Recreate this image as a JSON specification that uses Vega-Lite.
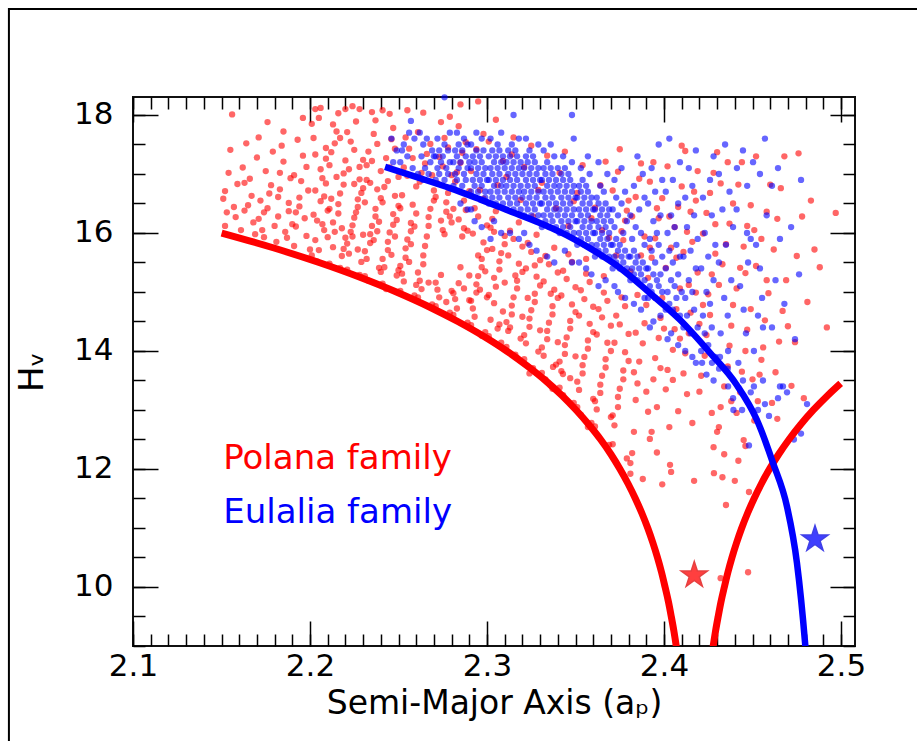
{
"$schema":"https://vega.github.io/schema/vega-lite/v6.json",
"width":722,"height":549,
"autosize":{"type":"none"},
"padding":{"left":133,"top":97,"right":62,"bottom":95},
"background":"#ffffff",
"config":{"view":{"stroke":"#111111","strokeWidth":2},"font":"DejaVu Sans","axis":{"grid":false,"domain":false}},
"resolve":{"axis":{"x":"independent","y":"independent"}},
"datasets":{
"frame":[{"a1":2.0299,"a2":2.7,"h1":19.797,"h2":6.0}],
"polana":[
{"a":2.152,"H":16.12},{"a":2.153,"H":16.35},{"a":2.151,"H":16.58},{"a":2.154,"H":17.02},{"a":2.155,"H":17.41},{"a":2.156,"H":18.01},{"a":2.158,"H":16.27},{"a":2.159,"H":16.83},{"a":2.157,"H":16.44},{"a":2.152,"H":16.71},
{"a":2.161,"H":16.05},{"a":2.163,"H":16.38},{"a":2.164,"H":17.52},{"a":2.166,"H":16.92},{"a":2.168,"H":16.18},{"a":2.162,"H":17.11},{"a":2.167,"H":16.63},{"a":2.169,"H":15.98},{"a":2.165,"H":16.47},{"a":2.17,"H":17.28},{"a":2.163,"H":16.85},
{"a":2.171,"H":16.24},{"a":2.172,"H":16.55},{"a":2.174,"H":15.93},{"a":2.175,"H":17.05},{"a":2.176,"H":16.42},{"a":2.178,"H":16.81},{"a":2.179,"H":17.38},{"a":2.173,"H":16.05},{"a":2.177,"H":16.67},{"a":2.171,"H":17.62},{"a":2.18,"H":16.12},{"a":2.176,"H":17.88},{"a":2.174,"H":16.35},
{"a":2.181,"H":15.85},{"a":2.182,"H":16.28},{"a":2.183,"H":16.74},{"a":2.185,"H":17.21},{"a":2.186,"H":16.02},{"a":2.188,"H":16.51},{"a":2.189,"H":16.93},{"a":2.184,"H":17.48},{"a":2.187,"H":15.92},{"a":2.182,"H":16.61},{"a":2.19,"H":16.15},{"a":2.185,"H":17.72},{"a":2.188,"H":16.37},{"a":2.183,"H":17.02},
{"a":2.191,"H":15.78},{"a":2.192,"H":16.11},{"a":2.194,"H":16.45},{"a":2.195,"H":16.88},{"a":2.196,"H":17.31},{"a":2.198,"H":15.95},{"a":2.199,"H":16.72},{"a":2.193,"H":17.58},{"a":2.197,"H":16.25},{"a":2.191,"H":16.98},{"a":2.2,"H":15.72},{"a":2.196,"H":17.95},{"a":2.194,"H":16.6},{"a":2.198,"H":17.12},{"a":2.192,"H":16.35},
{"a":2.201,"H":15.62},{"a":2.203,"H":15.88},{"a":2.204,"H":16.21},{"a":2.206,"H":16.54},{"a":2.207,"H":16.93},{"a":2.209,"H":17.26},{"a":2.202,"H":17.61},{"a":2.205,"H":15.71},{"a":2.208,"H":16.05},{"a":2.21,"H":16.38},{"a":2.203,"H":16.72},{"a":2.206,"H":17.08},{"a":2.209,"H":17.44},{"a":2.201,"H":17.85},{"a":2.204,"H":15.52},{"a":2.207,"H":16.15},{"a":2.208,"H":16.62},{"a":2.202,"H":16.31},{"a":2.205,"H":17.95},{"a":2.21,"H":15.93},{"a":2.206,"H":18.12},{"a":2.203,"H":17.33},{"a":2.209,"H":16.84},{"a":2.203,"H":18.1},
{"a":2.211,"H":15.48},{"a":2.213,"H":15.76},{"a":2.214,"H":16.02},{"a":2.216,"H":16.33},{"a":2.217,"H":16.67},{"a":2.219,"H":17.01},{"a":2.212,"H":17.37},{"a":2.215,"H":17.72},{"a":2.218,"H":15.61},{"a":2.22,"H":15.92},{"a":2.213,"H":16.18},{"a":2.216,"H":16.49},{"a":2.219,"H":16.82},{"a":2.211,"H":17.15},{"a":2.214,"H":17.52},{"a":2.217,"H":15.41},{"a":2.218,"H":16.08},{"a":2.212,"H":16.58},{"a":2.215,"H":16.95},{"a":2.22,"H":17.23},{"a":2.216,"H":18.03},{"a":2.213,"H":17.84},{"a":2.219,"H":15.73},{"a":2.211,"H":16.41},{"a":2.217,"H":17.61},{"a":2.22,"H":18.1},
{"a":2.221,"H":15.38},{"a":2.222,"H":15.65},{"a":2.224,"H":15.94},{"a":2.225,"H":16.26},{"a":2.227,"H":16.57},{"a":2.228,"H":16.91},{"a":2.23,"H":17.24},{"a":2.223,"H":17.55},{"a":2.226,"H":17.89},{"a":2.229,"H":15.51},{"a":2.221,"H":15.82},{"a":2.224,"H":16.13},{"a":2.227,"H":16.44},{"a":2.23,"H":16.76},{"a":2.222,"H":17.08},{"a":2.225,"H":17.41},{"a":2.228,"H":15.29},{"a":2.223,"H":16.02},{"a":2.226,"H":16.35},{"a":2.229,"H":16.68},{"a":2.221,"H":17.71},{"a":2.224,"H":18.15},{"a":2.227,"H":15.72},{"a":2.23,"H":15.97},{"a":2.225,"H":16.83},{"a":2.228,"H":17.12},{"a":2.228,"H":18.1},
{"a":2.231,"H":15.27},{"a":2.232,"H":15.56},{"a":2.234,"H":15.83},{"a":2.235,"H":16.12},{"a":2.237,"H":16.41},{"a":2.238,"H":16.74},{"a":2.24,"H":17.05},{"a":2.233,"H":17.38},{"a":2.236,"H":17.68},{"a":2.239,"H":15.41},{"a":2.231,"H":15.69},{"a":2.234,"H":15.98},{"a":2.237,"H":16.28},{"a":2.24,"H":16.59},{"a":2.232,"H":16.9},{"a":2.235,"H":17.22},{"a":2.238,"H":17.51},{"a":2.233,"H":15.19},{"a":2.236,"H":15.88},{"a":2.239,"H":16.19},{"a":2.231,"H":16.52},{"a":2.234,"H":16.85},{"a":2.237,"H":17.91},{"a":2.24,"H":15.34},{"a":2.235,"H":18.05},{"a":2.238,"H":16.03},{"a":2.232,"H":17.15},
{"a":2.241,"H":15.14},{"a":2.242,"H":15.42},{"a":2.244,"H":15.71},{"a":2.245,"H":16.01},{"a":2.247,"H":16.32},{"a":2.248,"H":16.63},{"a":2.25,"H":16.95},{"a":2.243,"H":17.27},{"a":2.246,"H":17.59},{"a":2.249,"H":15.28},{"a":2.241,"H":15.56},{"a":2.244,"H":15.85},{"a":2.247,"H":16.14},{"a":2.25,"H":16.46},{"a":2.242,"H":16.78},{"a":2.245,"H":17.11},{"a":2.248,"H":17.43},{"a":2.243,"H":15.05},{"a":2.246,"H":15.63},{"a":2.249,"H":16.22},{"a":2.241,"H":16.52},{"a":2.244,"H":16.88},{"a":2.247,"H":17.78},{"a":2.25,"H":15.37},{"a":2.245,"H":18.02},{"a":2.248,"H":15.94},{"a":2.241,"H":18.08},
{"a":2.251,"H":15.02},{"a":2.252,"H":15.31},{"a":2.254,"H":15.58},{"a":2.255,"H":15.89},{"a":2.257,"H":16.17},{"a":2.258,"H":16.48},{"a":2.26,"H":16.79},{"a":2.253,"H":17.11},{"a":2.256,"H":17.43},{"a":2.259,"H":14.94},{"a":2.251,"H":15.44},{"a":2.254,"H":15.74},{"a":2.257,"H":16.03},{"a":2.26,"H":16.33},{"a":2.252,"H":16.64},{"a":2.255,"H":16.97},{"a":2.258,"H":17.27},{"a":2.253,"H":15.18},{"a":2.256,"H":15.51},{"a":2.259,"H":16.11},{"a":2.251,"H":16.42},{"a":2.254,"H":17.62},{"a":2.257,"H":15.81},{"a":2.26,"H":15.12},{"a":2.255,"H":18.08},
{"a":2.261,"H":14.91},{"a":2.262,"H":15.19},{"a":2.264,"H":15.47},{"a":2.265,"H":15.78},{"a":2.267,"H":16.12},{"a":2.268,"H":16.41},{"a":2.27,"H":16.72},{"a":2.263,"H":17.02},{"a":2.266,"H":17.34},{"a":2.269,"H":14.79},{"a":2.261,"H":15.33},{"a":2.264,"H":15.62},{"a":2.267,"H":16.27},{"a":2.27,"H":16.55},{"a":2.262,"H":16.87},{"a":2.265,"H":17.18},{"a":2.268,"H":17.51},{"a":2.263,"H":15.05},{"a":2.266,"H":15.94},{"a":2.269,"H":16.98},{"a":2.261,"H":17.71},{"a":2.264,"H":18.04},{"a":2.267,"H":15.16},
{"a":2.271,"H":14.76},{"a":2.272,"H":15.04},{"a":2.274,"H":15.29},{"a":2.275,"H":16.05},{"a":2.277,"H":16.36},{"a":2.278,"H":16.68},{"a":2.28,"H":16.98},{"a":2.273,"H":17.29},{"a":2.276,"H":17.61},{"a":2.279,"H":14.65},{"a":2.271,"H":15.16},{"a":2.274,"H":16.21},{"a":2.277,"H":16.52},{"a":2.28,"H":15.02},{"a":2.272,"H":16.84},{"a":2.275,"H":17.13},{"a":2.278,"H":17.45},{"a":2.273,"H":14.91},{"a":2.276,"H":15.98},{"a":2.279,"H":16.28},{"a":2.271,"H":16.61},{"a":2.274,"H":17.88},{"a":2.277,"H":14.83},{"a":2.28,"H":16.18},{"a":2.279,"H":17.97},
{"a":2.281,"H":14.61},{"a":2.282,"H":14.88},{"a":2.284,"H":15.15},{"a":2.285,"H":15.42},{"a":2.287,"H":16.08},{"a":2.288,"H":16.39},{"a":2.29,"H":16.71},{"a":2.283,"H":17.03},{"a":2.286,"H":17.36},{"a":2.289,"H":14.48},{"a":2.281,"H":14.98},{"a":2.284,"H":16.23},{"a":2.287,"H":16.55},{"a":2.29,"H":15.28},{"a":2.282,"H":16.87},{"a":2.285,"H":17.19},{"a":2.288,"H":17.54},{"a":2.283,"H":14.72},{"a":2.286,"H":15.94},{"a":2.289,"H":16.04},{"a":2.281,"H":16.41},{"a":2.284,"H":17.81},{"a":2.287,"H":15.06},{"a":2.29,"H":14.86},{"a":2.285,"H":18.18},
{"a":2.291,"H":14.44},{"a":2.292,"H":14.72},{"a":2.294,"H":14.99},{"a":2.295,"H":15.27},{"a":2.297,"H":15.56},{"a":2.298,"H":15.84},{"a":2.3,"H":16.13},{"a":2.293,"H":16.42},{"a":2.296,"H":16.73},{"a":2.299,"H":14.32},{"a":2.291,"H":14.85},{"a":2.294,"H":15.13},{"a":2.297,"H":15.42},{"a":2.3,"H":15.71},{"a":2.292,"H":15.99},{"a":2.295,"H":16.28},{"a":2.298,"H":16.58},{"a":2.293,"H":14.58},{"a":2.296,"H":15.04},{"a":2.299,"H":15.35},{"a":2.291,"H":17.05},{"a":2.294,"H":17.42},{"a":2.297,"H":14.26},{"a":2.3,"H":14.91},{"a":2.295,"H":15.62},{"a":2.298,"H":17.68},{"a":2.295,"H":18.23},
{"a":2.301,"H":14.25},{"a":2.302,"H":14.53},{"a":2.304,"H":14.81},{"a":2.305,"H":15.09},{"a":2.307,"H":15.38},{"a":2.308,"H":15.66},{"a":2.31,"H":15.95},{"a":2.303,"H":16.24},{"a":2.306,"H":14.38},{"a":2.309,"H":14.67},{"a":2.301,"H":14.95},{"a":2.304,"H":15.24},{"a":2.307,"H":15.52},{"a":2.31,"H":15.81},{"a":2.302,"H":16.09},{"a":2.305,"H":16.37},{"a":2.308,"H":14.14},{"a":2.303,"H":15.73},{"a":2.306,"H":16.81},{"a":2.309,"H":17.22},{"a":2.301,"H":17.55},{"a":2.304,"H":16.02},{"a":2.307,"H":14.45},{"a":2.31,"H":15.16},{"a":2.305,"H":17.92},
{"a":2.311,"H":14.07},{"a":2.312,"H":14.34},{"a":2.314,"H":14.62},{"a":2.315,"H":14.91},{"a":2.317,"H":15.19},{"a":2.318,"H":15.48},{"a":2.32,"H":15.77},{"a":2.313,"H":16.04},{"a":2.316,"H":13.94},{"a":2.319,"H":14.21},{"a":2.311,"H":14.49},{"a":2.314,"H":14.77},{"a":2.317,"H":15.06},{"a":2.32,"H":15.34},{"a":2.312,"H":15.62},{"a":2.315,"H":15.9},{"a":2.318,"H":16.18},{"a":2.313,"H":14.4},{"a":2.316,"H":15.28},{"a":2.319,"H":16.56},{"a":2.311,"H":16.95},{"a":2.314,"H":17.33},{"a":2.317,"H":13.88},{"a":2.32,"H":14.58},{"a":2.315,"H":17.62},
{"a":2.321,"H":13.86},{"a":2.322,"H":14.13},{"a":2.324,"H":14.41},{"a":2.325,"H":14.69},{"a":2.327,"H":14.97},{"a":2.328,"H":15.26},{"a":2.33,"H":15.54},{"a":2.323,"H":15.83},{"a":2.326,"H":13.71},{"a":2.329,"H":13.99},{"a":2.321,"H":14.27},{"a":2.324,"H":14.55},{"a":2.327,"H":14.83},{"a":2.33,"H":15.11},{"a":2.322,"H":15.4},{"a":2.325,"H":15.68},{"a":2.328,"H":15.97},{"a":2.323,"H":14.9},{"a":2.326,"H":16.28},{"a":2.329,"H":16.73},{"a":2.321,"H":17.12},{"a":2.324,"H":13.62},{"a":2.327,"H":15.45},{"a":2.33,"H":14.35},{"a":2.325,"H":17.48},
{"a":2.331,"H":13.63},{"a":2.332,"H":13.92},{"a":2.334,"H":14.2},{"a":2.335,"H":14.48},{"a":2.337,"H":14.76},{"a":2.338,"H":15.04},{"a":2.34,"H":15.33},{"a":2.333,"H":15.61},{"a":2.336,"H":13.41},{"a":2.339,"H":13.77},{"a":2.331,"H":14.06},{"a":2.334,"H":14.34},{"a":2.337,"H":14.62},{"a":2.34,"H":14.9},{"a":2.332,"H":15.18},{"a":2.335,"H":15.47},{"a":2.338,"H":15.75},{"a":2.333,"H":13.52},{"a":2.336,"H":14.97},{"a":2.339,"H":16.42},{"a":2.331,"H":16.85},{"a":2.334,"H":17.31},{"a":2.337,"H":13.36},{"a":2.34,"H":14.15},{"a":2.3373,"H":13.73},
{"a":2.341,"H":13.38},{"a":2.342,"H":13.66},{"a":2.344,"H":13.95},{"a":2.345,"H":14.23},{"a":2.347,"H":14.51},{"a":2.348,"H":14.79},{"a":2.35,"H":15.08},{"a":2.343,"H":15.36},{"a":2.346,"H":15.64},{"a":2.349,"H":13.12},{"a":2.341,"H":13.82},{"a":2.344,"H":14.1},{"a":2.347,"H":14.38},{"a":2.35,"H":14.66},{"a":2.342,"H":14.94},{"a":2.345,"H":15.22},{"a":2.348,"H":15.51},{"a":2.343,"H":13.25},{"a":2.346,"H":16.12},{"a":2.349,"H":16.54},{"a":2.341,"H":17.02},{"a":2.344,"H":17.38},{"a":2.347,"H":13.54},{"a":2.35,"H":13.91},{"a":2.3429,"H":13.61},
{"a":2.351,"H":13.05},{"a":2.352,"H":13.34},{"a":2.354,"H":13.62},{"a":2.355,"H":13.9},{"a":2.357,"H":14.18},{"a":2.358,"H":14.46},{"a":2.36,"H":14.75},{"a":2.353,"H":15.03},{"a":2.356,"H":15.31},{"a":2.359,"H":12.78},{"a":2.351,"H":13.48},{"a":2.354,"H":13.76},{"a":2.357,"H":14.04},{"a":2.36,"H":14.32},{"a":2.352,"H":14.6},{"a":2.355,"H":14.88},{"a":2.358,"H":15.17},{"a":2.353,"H":12.92},{"a":2.356,"H":15.56},{"a":2.359,"H":16.25},{"a":2.351,"H":16.68},{"a":2.354,"H":17.15},{"a":2.357,"H":12.71},{"a":2.36,"H":13.19},
{"a":2.361,"H":12.72},{"a":2.362,"H":13.01},{"a":2.364,"H":13.29},{"a":2.365,"H":13.58},{"a":2.367,"H":13.86},{"a":2.368,"H":14.14},{"a":2.37,"H":14.43},{"a":2.363,"H":14.71},{"a":2.366,"H":14.99},{"a":2.369,"H":12.41},{"a":2.361,"H":13.15},{"a":2.364,"H":13.43},{"a":2.367,"H":13.72},{"a":2.37,"H":14.0},{"a":2.362,"H":14.28},{"a":2.365,"H":14.57},{"a":2.368,"H":14.85},{"a":2.363,"H":12.55},{"a":2.366,"H":15.27},{"a":2.369,"H":15.92},{"a":2.361,"H":16.43},{"a":2.364,"H":16.81},{"a":2.367,"H":17.21},{"a":2.37,"H":12.88},{"a":2.365,"H":16.05},
{"a":2.371,"H":12.42},{"a":2.372,"H":12.74},{"a":2.374,"H":13.05},{"a":2.375,"H":13.36},{"a":2.377,"H":13.67},{"a":2.378,"H":13.98},{"a":2.38,"H":14.29},{"a":2.373,"H":14.6},{"a":2.376,"H":14.91},{"a":2.379,"H":12.18},{"a":2.371,"H":12.91},{"a":2.374,"H":13.22},{"a":2.377,"H":13.52},{"a":2.38,"H":13.83},{"a":2.372,"H":14.14},{"a":2.375,"H":14.45},{"a":2.378,"H":14.76},{"a":2.373,"H":15.62},{"a":2.376,"H":16.03},{"a":2.379,"H":16.38},{"a":2.371,"H":16.72},{"a":2.374,"H":17.04},{"a":2.377,"H":15.88},{"a":2.38,"H":16.55},{"a":2.375,"H":17.42},{"a":2.378,"H":16.21},
{"a":2.381,"H":11.92},{"a":2.382,"H":12.27},{"a":2.383,"H":12.63},{"a":2.384,"H":13.17},{"a":2.385,"H":13.45},{"a":2.386,"H":13.82},{"a":2.388,"H":14.13},{"a":2.389,"H":14.47},{"a":2.39,"H":14.78},{"a":2.381,"H":12.1},{"a":2.383,"H":13.64},{"a":2.385,"H":14.95},{"a":2.387,"H":15.62},{"a":2.389,"H":15.94},{"a":2.382,"H":16.28},{"a":2.384,"H":16.61},{"a":2.386,"H":16.92},{"a":2.388,"H":11.83},{"a":2.39,"H":13.31},{"a":2.381,"H":15.35},{"a":2.387,"H":17.18},{"a":2.384,"H":14.31},
{"a":2.391,"H":12.97},{"a":2.392,"H":12.51},{"a":2.393,"H":12.63},{"a":2.396,"H":13.05},{"a":2.394,"H":13.52},{"a":2.395,"H":13.88},{"a":2.397,"H":14.22},{"a":2.398,"H":14.56},{"a":2.399,"H":14.9},{"a":2.391,"H":15.24},{"a":2.393,"H":15.58},{"a":2.395,"H":15.91},{"a":2.397,"H":16.25},{"a":2.399,"H":16.59},{"a":2.392,"H":16.87},{"a":2.394,"H":17.2},{"a":2.396,"H":12.28},{"a":2.398,"H":13.71},{"a":2.4,"H":14.38},{"a":2.392,"H":15.75},{"a":2.396,"H":16.42},{"a":2.399,"H":11.74},
{"a":2.403,"H":12.71},{"a":2.4034,"H":12.07},{"a":2.404,"H":11.95},{"a":2.408,"H":12.98},{"a":2.401,"H":13.35},{"a":2.402,"H":13.68},{"a":2.405,"H":14.02},{"a":2.406,"H":14.37},{"a":2.407,"H":14.71},{"a":2.409,"H":15.06},{"a":2.401,"H":15.41},{"a":2.404,"H":15.75},{"a":2.406,"H":16.1},{"a":2.408,"H":16.44},{"a":2.41,"H":16.79},{"a":2.402,"H":17.13},{"a":2.405,"H":13.51},{"a":2.409,"H":14.21},{"a":2.407,"H":15.58},{"a":2.403,"H":16.28},{"a":2.41,"H":17.48},
{"a":2.416,"H":12.78},{"a":2.417,"H":11.8},{"a":2.413,"H":13.27},{"a":2.411,"H":13.62},{"a":2.412,"H":13.96},{"a":2.414,"H":14.3},{"a":2.415,"H":14.65},{"a":2.418,"H":14.99},{"a":2.419,"H":15.33},{"a":2.411,"H":15.68},{"a":2.413,"H":16.02},{"a":2.415,"H":16.36},{"a":2.417,"H":16.7},{"a":2.419,"H":17.05},{"a":2.412,"H":17.39},{"a":2.42,"H":13.31},{"a":2.414,"H":15.12},{"a":2.416,"H":15.85},{"a":2.418,"H":16.55},{"a":2.42,"H":14.46},
{"a":2.427,"H":12.95},{"a":2.43,"H":12.63},{"a":2.428,"H":12.37},{"a":2.4282,"H":11.93},{"a":2.421,"H":13.58},{"a":2.423,"H":13.92},{"a":2.424,"H":14.27},{"a":2.426,"H":14.61},{"a":2.425,"H":14.96},{"a":2.427,"H":15.3},{"a":2.429,"H":15.65},{"a":2.422,"H":15.99},{"a":2.424,"H":16.34},{"a":2.426,"H":16.68},{"a":2.428,"H":17.02},{"a":2.43,"H":17.37},{"a":2.422,"H":14.78},{"a":2.429,"H":16.15},{"a":2.432,"H":10.15},
{"a":2.433,"H":11.86},{"a":2.435,"H":11.39},{"a":2.44,"H":11.8},{"a":2.431,"H":12.71},{"a":2.432,"H":13.05},{"a":2.434,"H":13.4},{"a":2.436,"H":13.74},{"a":2.437,"H":14.09},{"a":2.438,"H":14.43},{"a":2.439,"H":14.78},{"a":2.431,"H":15.12},{"a":2.433,"H":15.47},{"a":2.435,"H":15.81},{"a":2.437,"H":16.16},{"a":2.439,"H":16.5},{"a":2.432,"H":16.84},{"a":2.436,"H":17.2},{"a":2.434,"H":12.25},{"a":2.438,"H":13.15},
{"a":2.442,"H":12.14},{"a":2.445,"H":12.49},{"a":2.446,"H":12.39},{"a":2.448,"H":11.61},{"a":2.4475,"H":10.25},{"a":2.441,"H":12.95},{"a":2.443,"H":13.3},{"a":2.444,"H":13.65},{"a":2.446,"H":14.0},{"a":2.447,"H":14.36},{"a":2.449,"H":14.71},{"a":2.441,"H":15.06},{"a":2.443,"H":15.41},{"a":2.445,"H":15.77},{"a":2.447,"H":16.12},{"a":2.449,"H":16.47},{"a":2.442,"H":16.82},{"a":2.444,"H":17.2},{"a":2.45,"H":13.52},{"a":2.446,"H":15.32},
{"a":2.451,"H":12.82},{"a":2.453,"H":13.15},{"a":2.454,"H":13.6},{"a":2.456,"H":14.06},{"a":2.457,"H":14.52},{"a":2.459,"H":14.98},{"a":2.452,"H":15.44},{"a":2.455,"H":15.9},{"a":2.458,"H":16.36},{"a":2.46,"H":16.82},{"a":2.452,"H":17.3},{"a":2.455,"H":13.85},{"a":2.458,"H":15.2},{"a":2.451,"H":16.05},
{"a":2.461,"H":13.12},{"a":2.463,"H":13.64},{"a":2.465,"H":14.16},{"a":2.467,"H":14.68},{"a":2.469,"H":15.2},{"a":2.462,"H":15.72},{"a":2.464,"H":16.24},{"a":2.466,"H":16.76},{"a":2.468,"H":17.3},{"a":2.47,"H":14.42},{"a":2.464,"H":12.85},
{"a":2.472,"H":13.41},{"a":2.475,"H":15.61},{"a":2.478,"H":16.28},{"a":2.474,"H":14.15},{"a":2.481,"H":14.83},{"a":2.485,"H":15.72},{"a":2.488,"H":15.42},{"a":2.497,"H":16.34},{"a":2.492,"H":14.4},{"a":2.479,"H":13.2},{"a":2.483,"H":16.55},{"a":2.476,"H":17.35}
],
"eulalia":[
{"a":2.247,"H":17.2},{"a":2.249,"H":17.4},{"a":2.246,"H":17.6},
{"a":2.251,"H":17.2},{"a":2.253,"H":17.5},{"a":2.255,"H":17.3},{"a":2.257,"H":17.9},{"a":2.258,"H":17.1},{"a":2.259,"H":17.6},{"a":2.252,"H":17.4},{"a":2.256,"H":17.7},
{"a":2.261,"H":17.0},{"a":2.263,"H":17.3},{"a":2.265,"H":17.1},{"a":2.266,"H":17.6},{"a":2.268,"H":17.2},{"a":2.269,"H":17.4},{"a":2.262,"H":17.7},{"a":2.264,"H":17.5},{"a":2.267,"H":17.0},{"a":2.27,"H":17.3},{"a":2.264,"H":16.9},
{"a":2.271,"H":16.9},{"a":2.276,"H":16.9},{"a":2.273,"H":17.0},{"a":2.278,"H":17.0},{"a":2.272,"H":17.1},{"a":2.277,"H":17.1},{"a":2.274,"H":17.2},{"a":2.279,"H":17.2},{"a":2.271,"H":17.3},{"a":2.275,"H":17.3},{"a":2.273,"H":17.4},{"a":2.278,"H":17.4},{"a":2.276,"H":17.5},{"a":2.272,"H":17.6},{"a":2.279,"H":17.7},{"a":2.276,"H":18.3},
{"a":2.281,"H":16.8},{"a":2.286,"H":16.8},{"a":2.283,"H":16.9},{"a":2.288,"H":16.9},{"a":2.282,"H":17.0},{"a":2.287,"H":17.0},{"a":2.284,"H":17.1},{"a":2.289,"H":17.1},{"a":2.281,"H":17.2},{"a":2.285,"H":17.2},{"a":2.29,"H":17.2},{"a":2.283,"H":17.3},{"a":2.288,"H":17.3},{"a":2.282,"H":17.4},{"a":2.286,"H":17.4},{"a":2.284,"H":17.5},{"a":2.289,"H":17.5},{"a":2.287,"H":17.6},{"a":2.283,"H":17.7},{"a":2.285,"H":16.5},{"a":2.289,"H":16.4},
{"a":2.291,"H":16.7},{"a":2.295,"H":16.7},{"a":2.299,"H":16.7},{"a":2.293,"H":16.8},{"a":2.297,"H":16.8},{"a":2.292,"H":16.9},{"a":2.296,"H":16.9},{"a":2.3,"H":16.9},{"a":2.294,"H":17.0},{"a":2.298,"H":17.0},{"a":2.291,"H":17.1},{"a":2.295,"H":17.1},{"a":2.299,"H":17.1},{"a":2.293,"H":17.2},{"a":2.297,"H":17.2},{"a":2.292,"H":17.3},{"a":2.296,"H":17.3},{"a":2.294,"H":17.4},{"a":2.298,"H":17.4},{"a":2.291,"H":17.5},{"a":2.297,"H":17.6},{"a":2.294,"H":17.7},{"a":2.299,"H":16.6},{"a":2.293,"H":16.2},{"a":2.297,"H":16.1},{"a":2.291,"H":16.4},
{"a":2.301,"H":16.5},{"a":2.305,"H":16.5},{"a":2.309,"H":16.5},{"a":2.303,"H":16.6},{"a":2.307,"H":16.6},{"a":2.302,"H":16.7},{"a":2.306,"H":16.7},{"a":2.31,"H":16.7},{"a":2.304,"H":16.8},{"a":2.308,"H":16.8},{"a":2.301,"H":16.9},{"a":2.305,"H":16.9},{"a":2.309,"H":16.9},{"a":2.303,"H":17.0},{"a":2.307,"H":17.0},{"a":2.302,"H":17.1},{"a":2.306,"H":17.1},{"a":2.31,"H":17.1},{"a":2.304,"H":17.2},{"a":2.308,"H":17.2},{"a":2.301,"H":17.3},{"a":2.305,"H":17.3},{"a":2.309,"H":17.3},{"a":2.303,"H":17.4},{"a":2.307,"H":17.4},{"a":2.306,"H":17.5},{"a":2.302,"H":17.6},{"a":2.308,"H":17.7},{"a":2.304,"H":16.2},{"a":2.308,"H":16.0},{"a":2.302,"H":15.9},
{"a":2.311,"H":16.4},{"a":2.315,"H":16.4},{"a":2.319,"H":16.4},{"a":2.313,"H":16.5},{"a":2.317,"H":16.5},{"a":2.312,"H":16.6},{"a":2.316,"H":16.6},{"a":2.32,"H":16.6},{"a":2.314,"H":16.7},{"a":2.318,"H":16.7},{"a":2.311,"H":16.8},{"a":2.315,"H":16.8},{"a":2.319,"H":16.8},{"a":2.313,"H":16.9},{"a":2.317,"H":16.9},{"a":2.312,"H":17.0},{"a":2.316,"H":17.0},{"a":2.32,"H":17.0},{"a":2.314,"H":17.1},{"a":2.318,"H":17.1},{"a":2.311,"H":17.2},{"a":2.315,"H":17.2},{"a":2.319,"H":17.2},{"a":2.313,"H":17.3},{"a":2.317,"H":17.3},{"a":2.312,"H":17.4},{"a":2.316,"H":17.4},{"a":2.314,"H":17.5},{"a":2.318,"H":17.6},{"a":2.315,"H":18.0},{"a":2.318,"H":15.9},{"a":2.313,"H":16.0},
{"a":2.321,"H":16.3},{"a":2.325,"H":16.3},{"a":2.329,"H":16.3},{"a":2.323,"H":16.4},{"a":2.327,"H":16.4},{"a":2.322,"H":16.5},{"a":2.326,"H":16.5},{"a":2.33,"H":16.5},{"a":2.324,"H":16.6},{"a":2.328,"H":16.6},{"a":2.321,"H":16.7},{"a":2.325,"H":16.7},{"a":2.329,"H":16.7},{"a":2.323,"H":16.8},{"a":2.327,"H":16.8},{"a":2.322,"H":16.9},{"a":2.326,"H":16.9},{"a":2.33,"H":16.9},{"a":2.324,"H":17.0},{"a":2.328,"H":17.0},{"a":2.321,"H":17.1},{"a":2.325,"H":17.1},{"a":2.329,"H":17.1},{"a":2.323,"H":17.2},{"a":2.327,"H":17.2},{"a":2.322,"H":17.3},{"a":2.326,"H":17.3},{"a":2.324,"H":17.4},{"a":2.329,"H":17.5},{"a":2.322,"H":17.6},{"a":2.324,"H":15.8},{"a":2.328,"H":15.7},{"a":2.321,"H":16.0},
{"a":2.331,"H":16.1},{"a":2.335,"H":16.1},{"a":2.339,"H":16.1},{"a":2.333,"H":16.2},{"a":2.337,"H":16.2},{"a":2.332,"H":16.3},{"a":2.336,"H":16.3},{"a":2.34,"H":16.3},{"a":2.334,"H":16.4},{"a":2.338,"H":16.4},{"a":2.331,"H":16.5},{"a":2.335,"H":16.5},{"a":2.339,"H":16.5},{"a":2.333,"H":16.6},{"a":2.337,"H":16.6},{"a":2.332,"H":16.7},{"a":2.336,"H":16.7},{"a":2.34,"H":16.7},{"a":2.334,"H":16.8},{"a":2.338,"H":16.8},{"a":2.331,"H":16.9},{"a":2.335,"H":16.9},{"a":2.339,"H":16.9},{"a":2.333,"H":17.0},{"a":2.337,"H":17.0},{"a":2.332,"H":17.1},{"a":2.336,"H":17.1},{"a":2.34,"H":17.1},{"a":2.334,"H":17.2},{"a":2.338,"H":17.3},{"a":2.332,"H":17.4},{"a":2.336,"H":17.5},{"a":2.334,"H":15.6},{"a":2.338,"H":15.5},
{"a":2.341,"H":16.0},{"a":2.345,"H":16.0},{"a":2.349,"H":16.0},{"a":2.343,"H":16.1},{"a":2.347,"H":16.1},{"a":2.342,"H":16.2},{"a":2.346,"H":16.2},{"a":2.35,"H":16.2},{"a":2.344,"H":16.3},{"a":2.348,"H":16.3},{"a":2.341,"H":16.4},{"a":2.345,"H":16.4},{"a":2.349,"H":16.4},{"a":2.343,"H":16.5},{"a":2.347,"H":16.5},{"a":2.342,"H":16.6},{"a":2.346,"H":16.6},{"a":2.35,"H":16.6},{"a":2.344,"H":16.7},{"a":2.348,"H":16.7},{"a":2.341,"H":16.8},{"a":2.345,"H":16.8},{"a":2.349,"H":16.8},{"a":2.343,"H":16.9},{"a":2.347,"H":16.9},{"a":2.342,"H":17.0},{"a":2.346,"H":17.0},{"a":2.344,"H":17.1},{"a":2.348,"H":17.2},{"a":2.343,"H":17.3},{"a":2.349,"H":17.6},{"a":2.348,"H":18.0},{"a":2.344,"H":15.7},{"a":2.348,"H":15.5},
{"a":2.351,"H":15.8},{"a":2.355,"H":15.8},{"a":2.359,"H":15.8},{"a":2.353,"H":15.9},{"a":2.357,"H":15.9},{"a":2.352,"H":16.0},{"a":2.356,"H":16.0},{"a":2.36,"H":16.0},{"a":2.354,"H":16.1},{"a":2.358,"H":16.1},{"a":2.351,"H":16.2},{"a":2.355,"H":16.2},{"a":2.359,"H":16.2},{"a":2.353,"H":16.3},{"a":2.357,"H":16.3},{"a":2.352,"H":16.4},{"a":2.356,"H":16.4},{"a":2.36,"H":16.4},{"a":2.354,"H":16.5},{"a":2.358,"H":16.5},{"a":2.351,"H":16.6},{"a":2.355,"H":16.6},{"a":2.359,"H":16.6},{"a":2.353,"H":16.7},{"a":2.357,"H":16.7},{"a":2.352,"H":16.8},{"a":2.356,"H":16.8},{"a":2.354,"H":16.9},{"a":2.358,"H":17.0},{"a":2.353,"H":17.1},{"a":2.357,"H":17.3},{"a":2.356,"H":15.4},{"a":2.352,"H":15.5},{"a":2.359,"H":15.3},
{"a":2.361,"H":15.6},{"a":2.365,"H":15.6},{"a":2.369,"H":15.6},{"a":2.363,"H":15.7},{"a":2.367,"H":15.7},{"a":2.362,"H":15.8},{"a":2.366,"H":15.8},{"a":2.37,"H":15.8},{"a":2.364,"H":15.9},{"a":2.368,"H":15.9},{"a":2.361,"H":16.0},{"a":2.365,"H":16.0},{"a":2.369,"H":16.0},{"a":2.363,"H":16.1},{"a":2.367,"H":16.1},{"a":2.362,"H":16.2},{"a":2.366,"H":16.2},{"a":2.37,"H":16.2},{"a":2.364,"H":16.3},{"a":2.368,"H":16.3},{"a":2.361,"H":16.4},{"a":2.365,"H":16.4},{"a":2.369,"H":16.4},{"a":2.363,"H":16.5},{"a":2.367,"H":16.5},{"a":2.362,"H":16.6},{"a":2.366,"H":16.7},{"a":2.364,"H":16.8},{"a":2.368,"H":17.0},{"a":2.363,"H":17.2},{"a":2.367,"H":15.2},{"a":2.363,"H":15.1},
{"a":2.371,"H":15.4},{"a":2.375,"H":15.4},{"a":2.379,"H":15.4},{"a":2.373,"H":15.5},{"a":2.377,"H":15.5},{"a":2.372,"H":15.6},{"a":2.376,"H":15.6},{"a":2.38,"H":15.6},{"a":2.374,"H":15.7},{"a":2.378,"H":15.7},{"a":2.371,"H":15.8},{"a":2.375,"H":15.8},{"a":2.373,"H":15.9},{"a":2.377,"H":16.0},{"a":2.372,"H":16.1},{"a":2.379,"H":16.2},{"a":2.374,"H":16.3},{"a":2.371,"H":16.4},{"a":2.376,"H":16.5},{"a":2.373,"H":16.6},{"a":2.378,"H":16.7},{"a":2.372,"H":16.9},{"a":2.376,"H":17.1},{"a":2.374,"H":15.0},{"a":2.378,"H":14.9},{"a":2.372,"H":15.1},
{"a":2.381,"H":15.2},{"a":2.385,"H":15.2},{"a":2.389,"H":15.2},{"a":2.383,"H":15.3},{"a":2.387,"H":15.3},{"a":2.382,"H":15.4},{"a":2.386,"H":15.4},{"a":2.39,"H":15.4},{"a":2.384,"H":15.5},{"a":2.388,"H":15.5},{"a":2.381,"H":15.6},{"a":2.385,"H":15.6},{"a":2.383,"H":15.7},{"a":2.389,"H":15.8},{"a":2.382,"H":15.9},{"a":2.387,"H":16.0},{"a":2.384,"H":16.1},{"a":2.381,"H":16.3},{"a":2.386,"H":16.4},{"a":2.389,"H":16.6},{"a":2.383,"H":16.8},{"a":2.388,"H":17.0},{"a":2.385,"H":17.3},{"a":2.383,"H":14.8},{"a":2.387,"H":14.7},{"a":2.389,"H":14.9},
{"a":2.391,"H":14.9},{"a":2.395,"H":14.9},{"a":2.399,"H":15.0},{"a":2.393,"H":15.0},{"a":2.397,"H":15.1},{"a":2.392,"H":15.1},{"a":2.396,"H":15.2},{"a":2.394,"H":15.3},{"a":2.398,"H":15.3},{"a":2.391,"H":15.4},{"a":2.395,"H":15.5},{"a":2.399,"H":15.6},{"a":2.393,"H":15.7},{"a":2.397,"H":15.8},{"a":2.392,"H":15.9},{"a":2.396,"H":16.0},{"a":2.394,"H":16.2},{"a":2.398,"H":16.3},{"a":2.391,"H":16.5},{"a":2.395,"H":16.7},{"a":2.399,"H":16.9},{"a":2.393,"H":17.1},{"a":2.397,"H":17.5},{"a":2.394,"H":14.5},{"a":2.398,"H":14.6},{"a":2.392,"H":14.4},
{"a":2.401,"H":14.7},{"a":2.405,"H":14.7},{"a":2.409,"H":14.6},{"a":2.403,"H":14.8},{"a":2.407,"H":14.9},{"a":2.402,"H":15.0},{"a":2.406,"H":15.1},{"a":2.41,"H":15.0},{"a":2.404,"H":15.2},{"a":2.408,"H":15.3},{"a":2.401,"H":15.4},{"a":2.405,"H":15.5},{"a":2.409,"H":15.6},{"a":2.403,"H":15.7},{"a":2.407,"H":15.8},{"a":2.402,"H":16.0},{"a":2.406,"H":16.1},{"a":2.404,"H":16.3},{"a":2.408,"H":16.5},{"a":2.401,"H":16.7},{"a":2.405,"H":16.9},{"a":2.409,"H":17.2},{"a":2.403,"H":17.6},{"a":2.404,"H":14.3},{"a":2.408,"H":14.1},{"a":2.402,"H":14.2},
{"a":2.411,"H":14.4},{"a":2.415,"H":14.3},{"a":2.419,"H":14.4},{"a":2.413,"H":14.6},{"a":2.417,"H":14.7},{"a":2.412,"H":14.9},{"a":2.416,"H":15.0},{"a":2.414,"H":15.2},{"a":2.418,"H":15.4},{"a":2.411,"H":15.6},{"a":2.415,"H":15.7},{"a":2.419,"H":15.9},{"a":2.413,"H":16.1},{"a":2.417,"H":16.3},{"a":2.412,"H":16.6},{"a":2.416,"H":16.8},{"a":2.414,"H":17.1},{"a":2.418,"H":17.4},{"a":2.416,"H":13.9},{"a":2.412,"H":14.0},{"a":2.418,"H":13.8},
{"a":2.421,"H":14.0},{"a":2.425,"H":14.1},{"a":2.429,"H":13.9},{"a":2.423,"H":14.3},{"a":2.427,"H":14.4},{"a":2.422,"H":14.6},{"a":2.426,"H":14.8},{"a":2.424,"H":15.0},{"a":2.428,"H":15.2},{"a":2.421,"H":15.4},{"a":2.425,"H":15.6},{"a":2.429,"H":15.8},{"a":2.423,"H":16.0},{"a":2.427,"H":16.3},{"a":2.422,"H":16.6},{"a":2.426,"H":16.9},{"a":2.428,"H":17.3},{"a":2.4215,"H":13.8},{"a":2.4271,"H":13.8},{"a":2.424,"H":13.6},{"a":2.428,"H":13.5},
{"a":2.4345,"H":17.5},{"a":2.4316,"H":13.9},{"a":2.4311,"H":13.7},{"a":2.4362,"H":14.0},{"a":2.4362,"H":13.4},{"a":2.439,"H":13.2},{"a":2.4392,"H":13.0},{"a":2.432,"H":14.3},{"a":2.436,"H":14.6},{"a":2.434,"H":14.9},{"a":2.438,"H":15.2},{"a":2.431,"H":15.5},{"a":2.435,"H":15.8},{"a":2.439,"H":16.1},{"a":2.433,"H":16.4},{"a":2.437,"H":16.7},{"a":2.431,"H":17.0},{"a":2.436,"H":13.7},
{"a":2.4446,"H":17.4},{"a":2.4412,"H":17.1},{"a":2.4475,"H":15.5},{"a":2.4469,"H":16.0},{"a":2.4463,"H":14.3},{"a":2.4446,"H":13.5},{"a":2.4441,"H":13.0},{"a":2.448,"H":12.4},{"a":2.442,"H":13.8},{"a":2.445,"H":14.7},{"a":2.443,"H":15.1},{"a":2.449,"H":15.9},{"a":2.441,"H":16.4},{"a":2.447,"H":16.8},{"a":2.449,"H":13.3},
{"a":2.457,"H":17.6},{"a":2.4503,"H":17.2},{"a":2.4542,"H":17.0},{"a":2.4542,"H":15.4},{"a":2.4554,"H":14.9},{"a":2.4531,"H":14.6},{"a":2.4559,"H":14.4},{"a":2.4508,"H":14.0},{"a":2.4508,"H":13.4},{"a":2.4559,"H":13.5},{"a":2.457,"H":13.1},{"a":2.4593,"H":12.9},{"a":2.4531,"H":13.0},{"a":2.452,"H":15.8},{"a":2.458,"H":16.3},
{"a":2.4644,"H":17.1},{"a":2.461,"H":16.8},{"a":2.4655,"H":15.9},{"a":2.461,"H":14.4},{"a":2.4655,"H":13.4},{"a":2.4672,"H":13.4},{"a":2.4695,"H":13.3},{"a":2.4644,"H":13.2},{"a":2.463,"H":15.2},{"a":2.468,"H":14.8},
{"a":2.4774,"H":16.9},{"a":2.4718,"H":16.1},{"a":2.4763,"H":15.3},{"a":2.4774,"H":12.6},{"a":2.4734,"H":12.5},{"a":2.4808,"H":13.1},{"a":2.474,"H":14.2}
],
"redcurves":[
{"branch":"L","a":2.1501,"H":16.0},{"branch":"L","a":2.1792,"H":15.75},{"branch":"L","a":2.2051,"H":15.5},{"branch":"L","a":2.2282,"H":15.25},{"branch":"L","a":2.2488,"H":15.0},{"branch":"L","a":2.2672,"H":14.75},{"branch":"L","a":2.2835,"H":14.5},{"branch":"L","a":2.2981,"H":14.25},{"branch":"L","a":2.3111,"H":14.0},{"branch":"L","a":2.3226,"H":13.75},{"branch":"L","a":2.333,"H":13.5},{"branch":"L","a":2.3422,"H":13.25},{"branch":"L","a":2.3503,"H":13.0},{"branch":"L","a":2.3576,"H":12.75},{"branch":"L","a":2.3642,"H":12.5},{"branch":"L","a":2.37,"H":12.25},{"branch":"L","a":2.3751,"H":12.0},{"branch":"L","a":2.3797,"H":11.75},{"branch":"L","a":2.3838,"H":11.5},{"branch":"L","a":2.3875,"H":11.25},{"branch":"L","a":2.3908,"H":11.0},{"branch":"L","a":2.3937,"H":10.75},{"branch":"L","a":2.3963,"H":10.5},{"branch":"L","a":2.3986,"H":10.25},{"branch":"L","a":2.4006,"H":10.0},{"branch":"L","a":2.4025,"H":9.75},{"branch":"L","a":2.4041,"H":9.5},{"branch":"L","a":2.4056,"H":9.25},{"branch":"L","a":2.4069,"H":9.0},{"branch":"L","a":2.408,"H":8.75},
{"branch":"R","a":2.4267,"H":8.75},{"branch":"R","a":2.4278,"H":9.0},{"branch":"R","a":2.4291,"H":9.25},{"branch":"R","a":2.4306,"H":9.5},{"branch":"R","a":2.4322,"H":9.75},{"branch":"R","a":2.4341,"H":10.0},{"branch":"R","a":2.4361,"H":10.25},{"branch":"R","a":2.4384,"H":10.5},{"branch":"R","a":2.441,"H":10.75},{"branch":"R","a":2.4439,"H":11.0},{"branch":"R","a":2.4472,"H":11.25},{"branch":"R","a":2.4509,"H":11.5},{"branch":"R","a":2.455,"H":11.75},{"branch":"R","a":2.4596,"H":12.0},{"branch":"R","a":2.4648,"H":12.25},{"branch":"R","a":2.4706,"H":12.5},{"branch":"R","a":2.4771,"H":12.75},{"branch":"R","a":2.4844,"H":13.0},{"branch":"R","a":2.4926,"H":13.25},{"branch":"R","a":2.4998,"H":13.45}
],
"bluecurve":[
{"a":2.2424,"H":17.12},{"a":2.2621,"H":16.93},{"a":2.2791,"H":16.76},{"a":2.296,"H":16.57},{"a":2.313,"H":16.37},{"a":2.3299,"H":16.17},{"a":2.3412,"H":16.02},{"a":2.3571,"H":15.76},{"a":2.3751,"H":15.41},{"a":2.3921,"H":14.98},{"a":2.409,"H":14.53},{"a":2.426,"H":13.97},{"a":2.4412,"H":13.42},{"a":2.4525,"H":12.83},{"a":2.4616,"H":12.1},{"a":2.4695,"H":11.36},{"a":2.4751,"H":10.41},{"a":2.4797,"H":9.05},{"a":2.4805,"H":8.75}
],
"stars":[{"fam":"Polana","a":2.4171,"H":10.2},{"fam":"Eulalia","a":2.4853,"H":10.81}],
"labels":[{"fam":"Polana","label":"Polana family","a":2.151,"H":11.995},{"fam":"Eulalia","label":"Eulalia family","a":2.151,"H":11.09}]
},
"layer":[
{"data":{"name":"frame"},"mark":{"type":"rect","fillOpacity":0,"stroke":"#000000","strokeWidth":2,"clip":false},
"encoding":{"x":{"field":"a1","type":"quantitative","scale":{"domain":[2.1,2.5079],"nice":false,"zero":false},"axis":null},"x2":{"field":"a2"},"y":{"field":"h1","type":"quantitative","scale":{"domain":[9.0,18.305],"nice":false,"zero":false},"axis":null},"y2":{"field":"h2"}}},
{"data":{"name":"polana"},"mark":{"type":"circle","color":"#ff0000","opacity":0.6,"size":40},
"encoding":{
"x":{"field":"a","type":"quantitative","scale":{"domain":[2.1,2.5079],"nice":false,"zero":false},"axis":{"orient":"bottom","values":[2.1,2.2,2.3,2.4,2.5],"format":".1f","ticks":false,"domain":false,"grid":false,"labelFontSize":31,"labelFont":"DejaVu Sans","labelColor":"#000000","labelPadding":5,"labelFlush":false,"labelOverlap":false,"title":"Semi-Major Axis (aₚ)","titleFontSize":33,"titleFont":"DejaVu Sans","titleFontWeight":"normal","titleColor":"#000000","titlePadding":6}},
"y":{"field":"H","type":"quantitative","scale":{"domain":[9.0,18.305],"nice":false,"zero":false},"axis":{"orient":"left","values":[10,12,14,16,18],"format":"d","ticks":false,"domain":false,"grid":false,"labelFontSize":31,"labelFont":"DejaVu Sans","labelColor":"#000000","labelPadding":20,"labelOverlap":false,"title":"Hᵥ","titleFontSize":34,"titleFont":"DejaVu Sans","titleFontWeight":"normal","titleColor":"#000000","titlePadding":24}}}},
{"data":{"name":"eulalia"},"mark":{"type":"circle","color":"#0000ff","opacity":0.6,"size":40},
"encoding":{
"x":{"field":"a","type":"quantitative","scale":{"domain":[2.1,2.5079],"nice":false,"zero":false},"axis":{"orient":"bottom","values":[2.1,2.2,2.3,2.4,2.5],"ticks":true,"tickSize":-25,"tickWidth":1.5,"tickColor":"#000000","labels":false,"domain":false,"grid":false,"title":null}},
"y":{"field":"H","type":"quantitative","scale":{"domain":[9.0,18.305],"nice":false,"zero":false},"axis":{"orient":"left","values":[10,12,14,16,18],"ticks":true,"tickSize":-25,"tickWidth":1.5,"tickColor":"#000000","labels":false,"domain":false,"grid":false,"title":null}}}},
{"data":{"name":"redcurves"},"mark":{"type":"line","color":"#ff0000","strokeWidth":7,"interpolate":"monotone","clip":true},
"encoding":{
"detail":{"field":"branch"},
"x":{"field":"a","type":"quantitative","scale":{"domain":[2.1,2.5079],"nice":false,"zero":false},"axis":{"orient":"bottom","values":[2.1,2.11,2.12,2.13,2.14,2.15,2.16,2.17,2.18,2.19,2.2,2.21,2.22,2.23,2.24,2.25,2.26,2.27,2.28,2.29,2.3,2.31,2.32,2.33,2.34,2.35,2.36,2.37,2.38,2.39,2.4,2.41,2.42,2.43,2.44,2.45,2.46,2.47,2.48,2.49,2.5],"ticks":true,"tickSize":-12,"tickWidth":1.5,"tickColor":"#000000","labels":false,"domain":false,"grid":false,"title":null}},
"y":{"field":"H","type":"quantitative","scale":{"domain":[9.0,18.305],"nice":false,"zero":false},"axis":{"orient":"left","values":[9,9.5,10,10.5,11,11.5,12,12.5,13,13.5,14,14.5,15,15.5,16,16.5,17,17.5,18],"ticks":true,"tickSize":-12,"tickWidth":1.5,"tickColor":"#000000","labels":false,"domain":false,"grid":false,"title":null}}}},
{"data":{"name":"bluecurve"},"mark":{"type":"line","color":"#0000ff","strokeWidth":6.5,"interpolate":"monotone","clip":true},
"encoding":{
"x":{"field":"a","type":"quantitative","scale":{"domain":[2.1,2.5079],"nice":false,"zero":false},"axis":{"orient":"top","values":[2.1,2.2,2.3,2.4,2.5],"ticks":true,"tickSize":-25,"tickWidth":1.5,"tickColor":"#000000","labels":false,"domain":false,"grid":false,"title":null}},
"y":{"field":"H","type":"quantitative","scale":{"domain":[9.0,18.305],"nice":false,"zero":false},"axis":{"orient":"right","values":[10,12,14,16,18],"ticks":true,"tickSize":-25,"tickWidth":1.5,"tickColor":"#000000","labels":false,"domain":false,"grid":false,"title":null}}}},
{"data":{"name":"stars"},"mark":{"type":"point","shape":"M0,-1L0.2245,-0.309L0.9511,-0.309L0.3633,0.118L0.5878,0.809L0,0.382L-0.5878,0.809L-0.3633,0.118L-0.9511,-0.309L-0.2245,-0.309Z","size":760,"filled":true,"opacity":0.75,"strokeWidth":1.5,"strokeOpacity":1},
"encoding":{
"x":{"field":"a","type":"quantitative","scale":{"domain":[2.1,2.5079],"nice":false,"zero":false},"axis":{"orient":"top","values":[2.1,2.11,2.12,2.13,2.14,2.15,2.16,2.17,2.18,2.19,2.2,2.21,2.22,2.23,2.24,2.25,2.26,2.27,2.28,2.29,2.3,2.31,2.32,2.33,2.34,2.35,2.36,2.37,2.38,2.39,2.4,2.41,2.42,2.43,2.44,2.45,2.46,2.47,2.48,2.49,2.5],"ticks":true,"tickSize":-12,"tickWidth":1.5,"tickColor":"#000000","labels":false,"domain":false,"grid":false,"title":null}},
"y":{"field":"H","type":"quantitative","scale":{"domain":[9.0,18.305],"nice":false,"zero":false},"axis":{"orient":"right","values":[9,9.5,10,10.5,11,11.5,12,12.5,13,13.5,14,14.5,15,15.5,16,16.5,17,17.5,18],"ticks":true,"tickSize":-12,"tickWidth":1.5,"tickColor":"#000000","labels":false,"domain":false,"grid":false,"title":null}},
"color":{"field":"fam","type":"nominal","scale":{"domain":["Polana","Eulalia"],"range":["#ff0000","#0000ff"]},"legend":null},
"stroke":{"field":"fam","type":"nominal","scale":{"domain":["Polana","Eulalia"],"range":["#e00000","#0000e0"]},"legend":null}}},
{"data":{"name":"labels"},"mark":{"type":"text","align":"left","baseline":"alphabetic","fontSize":34,"font":"DejaVu Sans"},
"encoding":{
"x":{"field":"a","type":"quantitative","scale":{"domain":[2.1,2.5079],"nice":false,"zero":false},"axis":null},
"y":{"field":"H","type":"quantitative","scale":{"domain":[9.0,18.305],"nice":false,"zero":false},"axis":null},
"text":{"field":"label"},
"color":{"field":"fam","type":"nominal","scale":{"domain":["Polana","Eulalia"],"range":["#ff0000","#0000ff"]},"legend":null}}}
]
}
